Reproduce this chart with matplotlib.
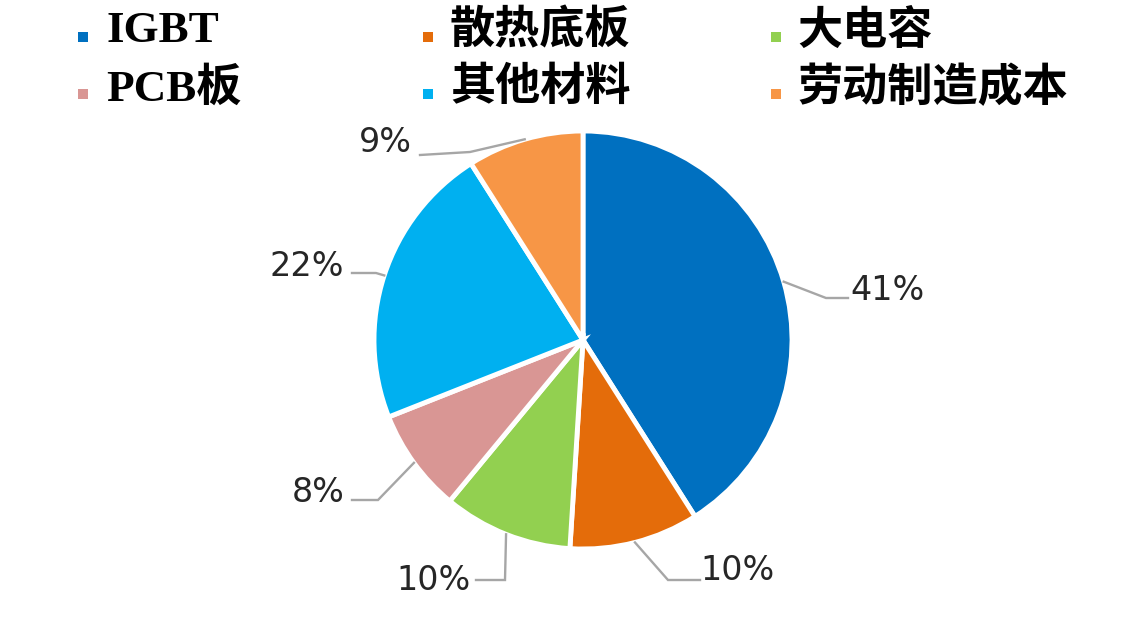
import matplotlib
matplotlib.use('Agg')
import matplotlib.pyplot as plt
import numpy as np

W, H = 1134, 628

# chart data
categories = ['IGBT', '散热底板', '大电容', 'PCB板', '其他材料', '劳动制造成本']
shares = [41, 10, 10, 8, 22, 9]
pct_labels = ['41%', '10%', '10%', '8%', '22%', '9%']
colors = ['#0070C0', '#E46C0A', '#92D050', '#D99694', '#00B0F0', '#F79646']

# layout, in pixels measured from the top-left corner
CENTER = (583, 340)
RADIUS = 209
label_pos = [(888, 291), (738, 571), (434, 580), (318, 492), (307, 266), (385, 142)]
leader_elbow = [(826, 298), (668, 580), (505, 580), (378, 500), (376, 273), (470, 152)]
leader_end = [(848, 298), (700, 580), (476, 580), (352, 500), (352, 273), (420, 155)]
legend_marker = [(83, 37), (428, 37), (776, 37), (83, 94), (428, 94), (776, 94)]
legend_text = [(106, 31), (450, 31), (797, 31), (106, 88), (450, 88), (797, 88)]


def flip(p):
    """pixel (top-based) -> data (bottom-based)"""
    return p[0], H - p[1]


fig = plt.figure(figsize=(W / 100, H / 100), dpi=100)
ax = fig.add_axes([0, 0, 1, 1])

cx, cy = flip(CENTER)
ax.pie(shares, colors=colors, startangle=90, counterclock=False,
       center=(cx, cy), radius=RADIUS,
       wedgeprops=dict(edgecolor='white', linewidth=3.5))

# percentage labels with leader lines
cum = np.cumsum([0] + shares[:-1])
for i, v in enumerate(shares):
    ang = np.deg2rad(90 - 360 * (cum[i] + v / 2) / sum(shares))
    sx, sy = cx + RADIUS * np.cos(ang), cy + RADIUS * np.sin(ang)
    ex, ey = flip(leader_elbow[i])
    tx, ty = flip(leader_end[i])
    ax.plot([sx, ex, tx], [sy, ey, ty], color='#A6A6A6', lw=1.7,
            solid_joinstyle='miter', zorder=1)
    lx, ly = flip(label_pos[i])
    ax.text(lx, ly, pct_labels[i], ha='center', va='center', fontsize=24,
            color='#262626', family=['DejaVu Sans'])

# legend, drawn by hand to keep the row-wise layout
for i, name in enumerate(categories):
    mx, my = flip(legend_marker[i])
    ax.scatter([mx], [my], marker='s', s=60, color=colors[i], linewidths=0)
    tx, ty = flip(legend_text[i])
    ax.text(tx, ty, name, ha='left', va='center', fontsize=32.5, fontweight='bold',
            color='black', family=['Liberation Serif', 'Noto Sans CJK SC'])

ax.set_xlim(0, W)
ax.set_ylim(0, H)
ax.set_aspect('equal')
ax.axis('off')

fig.savefig('out.png', dpi=100, facecolor='white')
